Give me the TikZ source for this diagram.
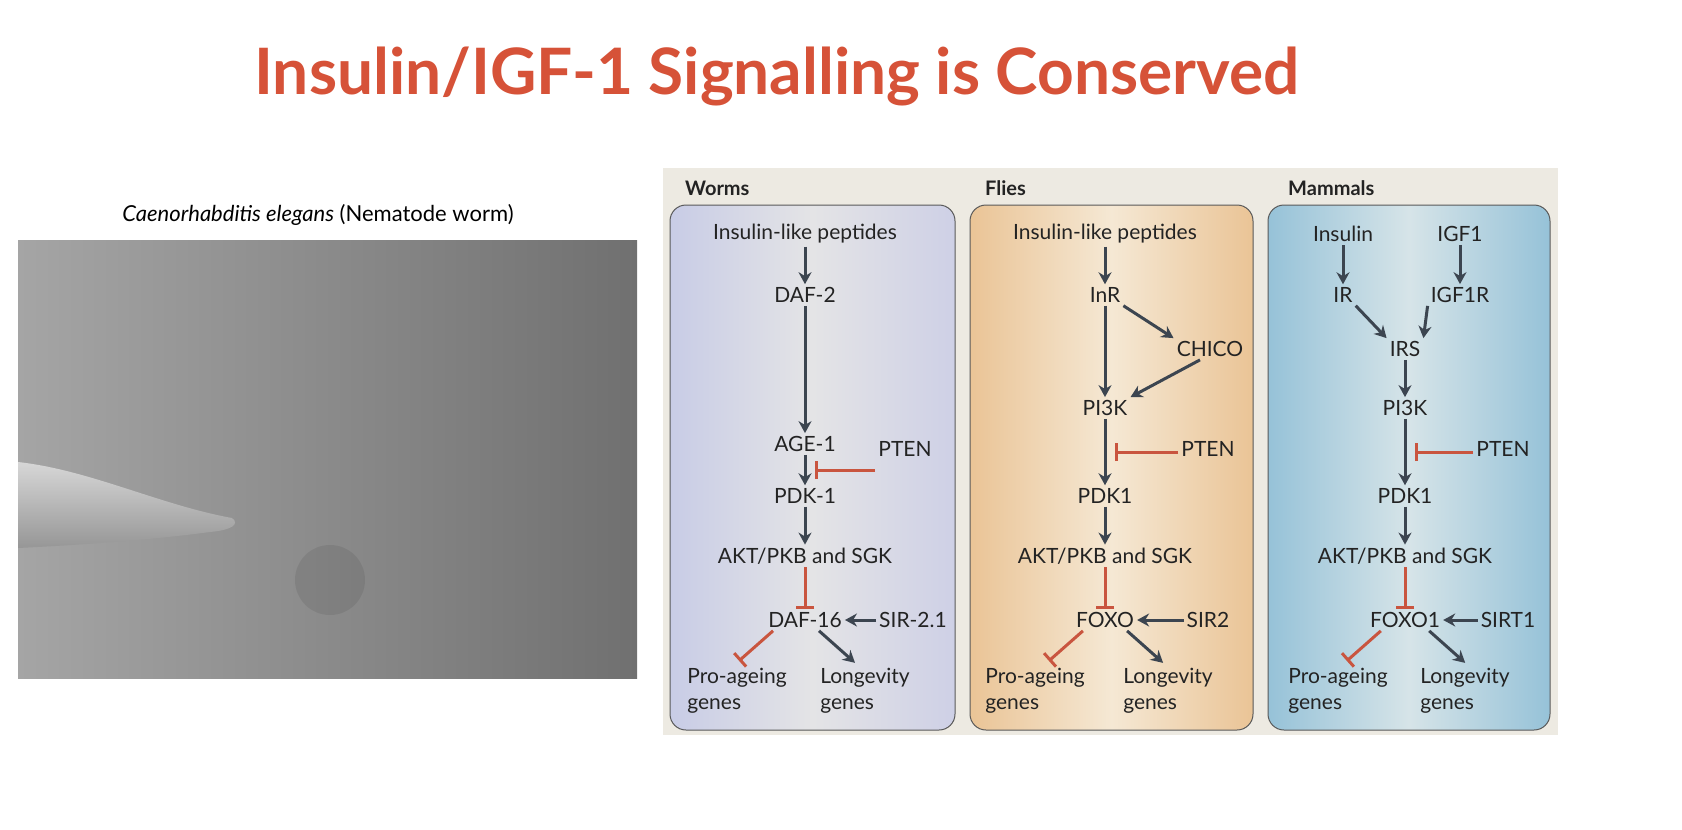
\documentclass[tikz,border=0pt]{standalone}
\usepackage{fontspec}
\setmainfont{Lato}
\usetikzlibrary{arrows.meta,calc}
\definecolor{ttl}{RGB}{214,82,56}
\definecolor{arr}{RGB}{60,69,80}
\definecolor{inhc}{RGB}{201,85,63}
\definecolor{panelbg}{RGB}{237,234,226}
\definecolor{txt}{RGB}{35,35,35}
\definecolor{photoL}{RGB}{165,165,165}
\definecolor{photoR}{RGB}{112,112,112}
\tikzset{
 lbl/.style={inner sep=3pt,font=\fontsize{21}{24}\selectfont,text=txt},
 hdr/.style={anchor=west,inner sep=0pt,font=\fontsize{20}{24}\selectfont\bfseries,text=txt},
 two/.style={lbl,align=left,font=\fontsize{21}{26}\selectfont},
 act/.style={draw=arr,line width=3pt,-{Stealth[length=12pt,width=13pt]}},
 inh/.style={draw=inhc,line width=3pt,-{Bar[width=18pt,line width=3pt]}},
 colbox/.style={draw=black!65,line width=1pt,rounded corners=16pt}
}
\begin{document}
\begin{tikzpicture}[x=1pt,y=-1pt]
\fill[white] (0,0) rectangle (1682,830);
\node[font=\fontsize{64}{70}\selectfont\bfseries,text=ttl] (title) at (777,76) {Insulin/IGF-1 Signalling is Conserved};
\node[font=\fontsize{22}{24}\selectfont,text=black] (cap) at (318,215) {\textit{Caenorhabditis elegans} (Nematode worm)};
% photo
\shade[left color=photoL,right color=photoR] (18,240) rectangle (637,678);
\fill[black,opacity=0.08] (330,580) circle (35);
\shade[top color={rgb,255:red,215;green,215;blue,215},bottom color={rgb,255:red,150;green,150;blue,150}] (18,462) .. controls (90,470) and (160,505) .. (232,518) .. controls (240,524) and (232,530) .. (210,532) .. controls (150,540) and (80,545) .. (18,548) -- cycle;
% panel
\fill[panelbg] (663,168) rectangle (1558,735);
\node[hdr] (h1) at (685,188) {Worms};
\node[hdr] (h2) at (985,188) {Flies};
\node[hdr] (h3) at (1288,188) {Mammals};
\shade[colbox,left color={rgb,255:red,200;green,204;blue,230},right color={rgb,255:red,206;green,208;blue,230},middle color={rgb,255:red,228;green,228;blue,230}] (670,205) rectangle (955,730);
\shade[colbox,left color={rgb,255:red,234;green,196;blue,150},right color={rgb,255:red,234;green,196;blue,150},middle color={rgb,255:red,245;green,232;blue,212}] (970,205) rectangle (1253,730);
\shade[colbox,left color={rgb,255:red,150;green,194;blue,216},right color={rgb,255:red,150;green,194;blue,216},middle color={rgb,255:red,214;green,228;blue,232}] (1268,205) rectangle (1550,730);
% worms
\node[lbl] (w1) at (805,234) {Insulin-like peptides};
\node[lbl] (w2) at (805,295) {DAF-2};
\node[lbl] (w3) at (805,444) {AGE-1};
\node[lbl] (w4) at (805,496) {PDK-1};
\node[lbl] (w5) at (805,556) {AKT/PKB and SGK};
\node[lbl] (w6) at (805,620) {DAF-16};
\node[lbl] (wp) at (905,449) {PTEN};
\node[lbl] (ws) at (913,620) {SIR-2.1};
\node[two] (wa) at (737,691) {Pro-ageing\\genes};
\node[two] (wl) at (865,691) {Longevity\\genes};
\draw[act] (w1) -- (w2); \draw[act] (w2) -- (w3); \draw[act] (w3) -- (w4); \draw[act] (w4) -- (w5);
\draw[inh] (w5) -- (w6);
\coordinate (wm) at ($(w3.south)!0.5!(w4.north)+(10,0)$);
\coordinate (wpe) at (wp.west |- wm);
\draw[inh] (wpe) -- (wm);
\draw[act] (ws.west) -- (w6.east);
\draw[inh] (w6.south west) ++(8,0) -- ++(-34,30);
\draw[act] (w6.south) ++(14,0) -- ++(36,32);
% flies
\node[lbl] (f1) at (1105,234) {Insulin-like peptides};
\node[lbl] (f2) at (1105,295) {InR};
\node[lbl] (fc) at (1210,349) {CHICO};
\node[lbl] (f3) at (1105,408) {PI3K};
\node[lbl] (f4) at (1105,496) {PDK1};
\node[lbl] (f5) at (1105,556) {AKT/PKB and SGK};
\node[lbl] (f6) at (1105,620) {FOXO};
\node[lbl] (fp) at (1208,449) {PTEN};
\node[lbl] (fs) at (1208,620) {SIR2};
\node[two] (fa) at (1035,691) {Pro-ageing\\genes};
\node[two] (fl) at (1168,691) {Longevity\\genes};
\draw[act] (f1) -- (f2); \draw[act] (f2) -- (f3); \draw[act] (f3) -- (f4); \draw[act] (f4) -- (f5);
\draw[act] (f2.south east) -- (fc.north west);
\draw[act] (fc.south) ++(-10,0) -- (f3.north east);
\draw[inh] (f5) -- (f6);
\coordinate (fm) at ($(f3.south)!0.5!(f4.north)+(10,0)$);
\coordinate (fpe) at (fp.west |- fm);
\draw[inh] (fpe) -- (fm);
\draw[act] (fs.west) -- (f6.east);
\draw[inh] (f6.south west) ++(10,0) -- ++(-34,30);
\draw[act] (f6.south east) ++(-10,0) -- ++(36,32);
% mammals
\node[lbl] (m1) at (1343,234) {Insulin};
\node[lbl] (m1b) at (1460,234) {IGF1};
\node[lbl] (m2) at (1343,295) {IR};
\node[lbl] (m2b) at (1460,295) {IGF1R};
\node[lbl] (mi) at (1405,349) {IRS};
\node[lbl] (m3) at (1405,408) {PI3K};
\node[lbl] (m4) at (1405,496) {PDK1};
\node[lbl] (m5) at (1405,556) {AKT/PKB and SGK};
\node[lbl] (m6) at (1405,620) {FOXO1};
\node[lbl] (mp) at (1503,449) {PTEN};
\node[lbl] (ms) at (1508,620) {SIRT1};
\node[two] (ma) at (1338,691) {Pro-ageing\\genes};
\node[two] (ml) at (1465,691) {Longevity\\genes};
\draw[act] (m1) -- (m2); \draw[act] (m1b) -- (m2b);
\draw[act] (m2.south east) -- (mi.north west);
\draw[act] (m2b.south west) -- (mi.north east);
\draw[act] (mi) -- (m3); \draw[act] (m3) -- (m4); \draw[act] (m4) -- (m5);
\draw[inh] (m5) -- (m6);
\coordinate (mm) at ($(m3.south)!0.5!(m4.north)+(10,0)$);
\coordinate (mpe) at (mp.west |- mm);
\draw[inh] (mpe) -- (mm);
\draw[act] (ms.west) -- (m6.east);
\draw[inh] (m6.south west) ++(14,0) -- ++(-34,30);
\draw[act] (m6.south east) ++(-14,0) -- ++(36,32);
\pgfresetboundingbox
\path[use as bounding box] (0,0) rectangle (1682,830);
\end{tikzpicture}
\end{document}
